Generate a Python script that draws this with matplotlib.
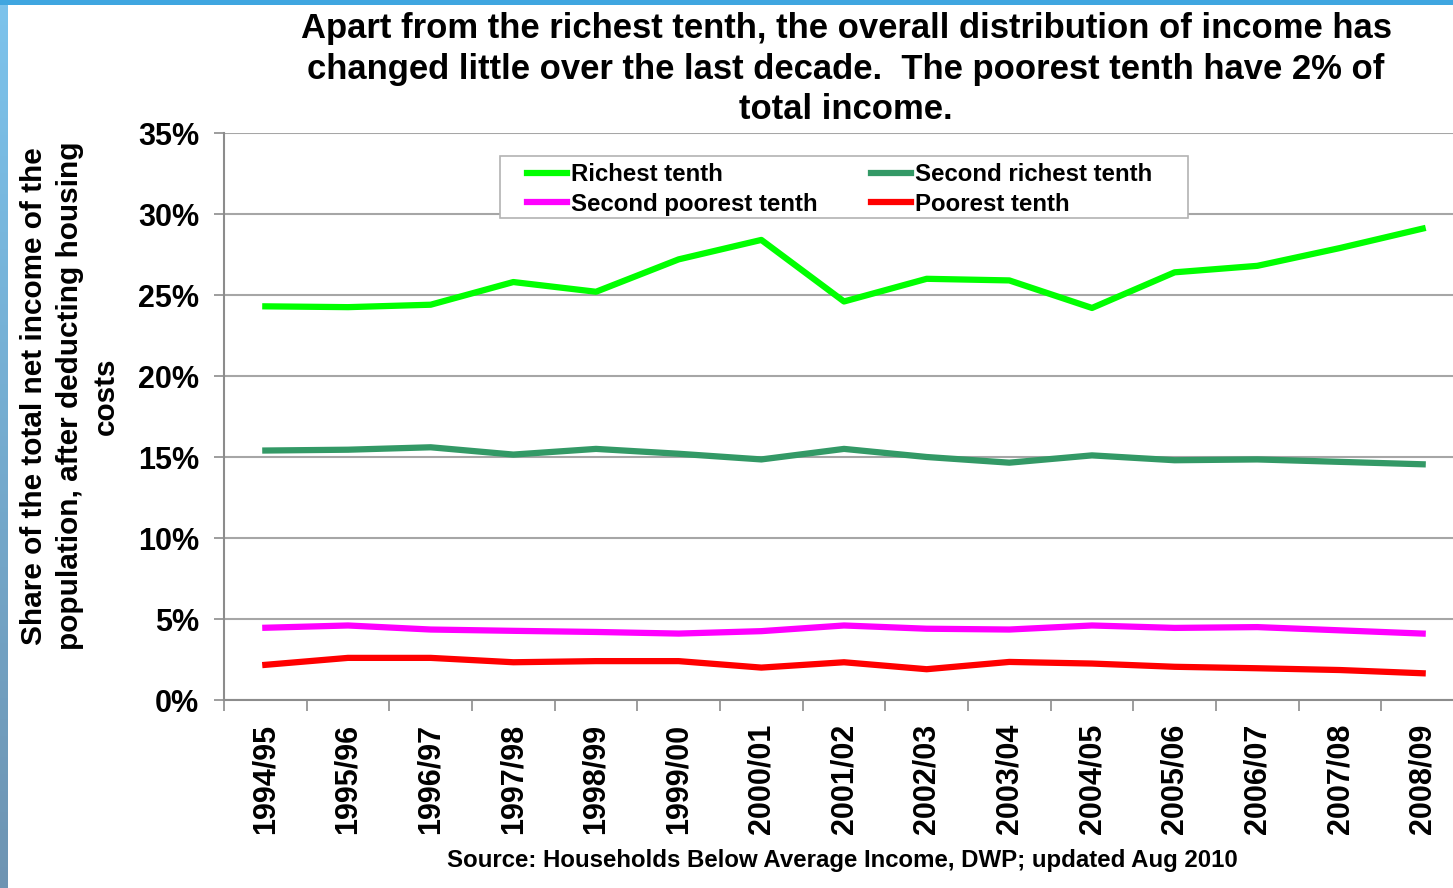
import numpy as np
import matplotlib.pyplot as plt
from matplotlib.ticker import FuncFormatter, FixedLocator
from matplotlib.colors import LinearSegmentedColormap
from matplotlib.patches import Rectangle

plt.rcParams["font.family"] = ["Liberation Sans", "DejaVu Sans"]
plt.rcParams["font.weight"] = "bold"

years = ["1994/95", "1995/96", "1996/97", "1997/98", "1998/99", "1999/00",
         "2000/01", "2001/02", "2002/03", "2003/04", "2004/05", "2005/06",
         "2006/07", "2007/08", "2008/09"]

# share of total income (%)
richest = [24.3, 24.25, 24.4, 25.8, 25.2, 27.2, 28.4, 24.6, 26.0, 25.9,
           24.2, 26.4, 26.8, 27.9, 29.1]
second_richest = [15.4, 15.45, 15.6, 15.15, 15.5, 15.2, 14.85, 15.5, 15.0,
                  14.65, 15.1, 14.8, 14.85, 14.7, 14.55]
second_poorest = [4.46, 4.6, 4.35, 4.27, 4.2, 4.1, 4.25, 4.6, 4.4, 4.35,
                  4.6, 4.45, 4.5, 4.3, 4.1]
poorest = [2.17, 2.6, 2.6, 2.33, 2.4, 2.4, 2.0, 2.33, 1.9, 2.35, 2.25,
           2.05, 1.96, 1.85, 1.65]

W, H = 1453, 888
fig = plt.figure(figsize=(W / 100, H / 100), dpi=100)

# blue slide border on top and left
top = fig.add_axes([0, 1 - 5 / H, 1, 5 / H])
top.set_facecolor("#3fa6e0")
top.set_xticks([])
top.set_yticks([])
for s in top.spines.values():
    s.set_visible(False)
left = fig.add_axes([0, 0, 8 / W, 1 - 5 / H])
grad = np.linspace(0, 1, 256).reshape(-1, 1)
cmap = LinearSegmentedColormap.from_list("edge", ["#7cc3ec", "#6e94b2"])
left.imshow(grad, aspect="auto", cmap=cmap)
left.axis("off")

ax = fig.add_axes([224 / W, 188 / H, 1240 / W, 567 / H])
x = np.arange(len(years))
lw = 4.5
ax.plot(x, richest, color="#00ff00", lw=lw, label="Richest tenth")
ax.plot(x, second_poorest, color="#ff00ff", lw=lw, label="Second poorest tenth")
ax.plot(x, second_richest, color="#339966", lw=lw, label="Second richest tenth")
ax.plot(x, poorest, color="#ff0000", lw=lw, label="Poorest tenth")

ax.set_xlim(-0.5, len(years) - 0.5)
ax.set_ylim(0, 35)
ax.set_yticks(np.arange(0, 36, 5))
ax.yaxis.set_major_formatter(FuncFormatter(lambda v, p: f"{v:.0f}%"))
ax.grid(axis="y", color="#a6a6a6", lw=1.5)
ax.set_axisbelow(True)

ax.set_xticks(x)
ax.set_xticklabels(years, rotation=90, fontsize=22, fontweight="bold")
ax.xaxis.set_minor_locator(FixedLocator(np.arange(-0.5, len(years), 1)))
ax.tick_params(axis="x", which="major", length=0, pad=17)
ax.tick_params(axis="x", which="minor", length=8, width=1.2, color="#8c8c8c")
ax.tick_params(axis="y", length=7, width=1.2, color="#8c8c8c", labelsize=22, pad=11)

for side in ("top", "right"):
    ax.spines[side].set_visible(False)
for side in ("left", "bottom"):
    ax.spines[side].set_color("#8c8c8c")
    ax.spines[side].set_linewidth(1.5)

fig.text(70 / W, 1 - 396 / H,
         "Share of the total net income of the\npopulation, after deducting housing\ncosts",
         rotation=90, ha="center", va="center", multialignment="center",
         fontsize=21.4, fontweight="bold", linespacing=1.36)

# legend frame drawn separately so the padding matches
ax.add_patch(Rectangle((500 / W, 1 - 218 / H), 688 / W, 62 / H,
                       transform=fig.transFigure, facecolor="white",
                       edgecolor="#b3b3b3", lw=1.2, zorder=4, clip_on=False))
leg = ax.legend(ncol=2, loc="upper left", bbox_to_anchor=(527 / W, 1 - 163 / H),
                bbox_transform=fig.transFigure, fontsize=17.3, frameon=False,
                handlelength=1.65, handletextpad=0.2, columnspacing=2.2,
                borderpad=0, labelspacing=0.28, borderaxespad=0)
leg.set_zorder(6)
for t in leg.get_texts():
    t.set_fontweight("bold")

fig.text(846 / W, 1 - 69 / H,
         "Apart from the richest tenth, the overall distribution of income has\n"
         "changed little over the last decade.  The poorest tenth have 2% of\n"
         "total income.", ha="center", va="center", fontsize=24.9,
         fontweight="bold", linespacing=1.28)
fig.text(842 / W, 1 - 860 / H,
         "Source: Households Below Average Income, DWP; updated Aug 2010",
         ha="center", va="center", fontsize=17.3, fontweight="bold")

fig.savefig("out.png", dpi=100)
